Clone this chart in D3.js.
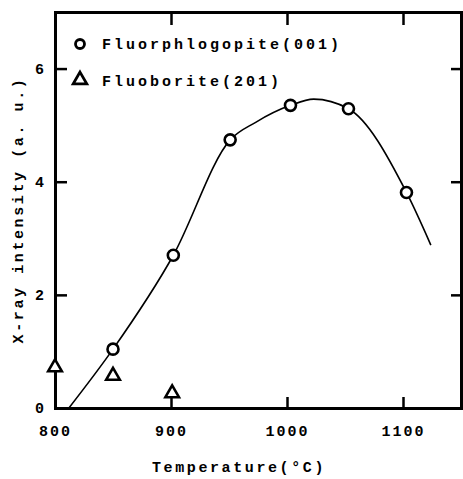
<!DOCTYPE html>
<html>
<head>
<meta charset="utf-8">
<script src="https://cdn.jsdelivr.net/npm/d3@7"></script>
<style>
  body { margin: 0; background: #fff; }
  text { font-family: "Liberation Mono", "DejaVu Sans Mono", monospace; fill: #000; }
</style>
</head>
<body>
<div id="chart"></div>
<script>
var svgWidth = 463;
var svgHeight = 479;

var margin = { top: 12, right: 2, bottom: 71, left: 55 };
var chartWidth = svgWidth - margin.left - margin.right;
var chartHeight = svgHeight - margin.top - margin.bottom;

// data
var phlogTemp = [850, 902, 951, 1003, 1053, 1103];
var phlogInt = [1.04, 2.70, 4.74, 5.35, 5.29, 3.81];

var borTemp = [800, 850, 901];
var borInt = [0.72, 0.57, 0.26];

// hand-drawn fitting curve through the phlogopite points
var curveTemp = [812, 850, 902, 951, 973, 1003, 1023, 1053, 1103, 1124];
var curveInt = [0.0, 1.04, 2.70, 4.74, 5.05, 5.35, 5.46, 5.29, 3.81, 2.88];

var xTicks = [800, 900, 1000, 1100];
var yTicks = [0, 2, 4, 6];

var svg = d3.select("#chart")
  .append("svg")
  .attr("width", svgWidth)
  .attr("height", svgHeight);

var chartGroup = svg.append("g")
  .attr("transform", `translate(${margin.left}, ${margin.top})`);

var x = d3.scaleLinear().domain([800, 1150]).range([0, chartWidth]);
var y = d3.scaleLinear().domain([0, 7]).range([chartHeight, 0]);

// axes, ticks pointing inward
var bottomAxis = d3.axisBottom(x).tickValues(xTicks).tickSize(-11).tickPadding(17).tickFormat(d3.format("d"));
var topAxis = d3.axisTop(x).tickValues(xTicks.slice(1)).tickSize(-13).tickFormat("");
var leftAxis = d3.axisLeft(y).tickValues(yTicks).tickSize(-12).tickPadding(9).tickFormat(d3.format("d"));
var rightAxis = d3.axisRight(y).tickValues(yTicks.slice(1)).tickSize(-10).tickFormat("");

function styleAxis(g) {
  g.select(".domain").attr("stroke", "#000").attr("stroke-width", 3);
  g.selectAll(".tick line").attr("stroke", "#000").attr("stroke-width", 2.5);
  g.selectAll(".tick text")
    .attr("font-size", 15)
    .attr("font-weight", "bold")
    .attr("letter-spacing", 2)
    .attr("fill", "#000");
}

chartGroup.append("g").attr("transform", `translate(0, ${chartHeight})`).call(bottomAxis).call(styleAxis);
chartGroup.append("g").call(topAxis).call(styleAxis);
chartGroup.append("g").call(leftAxis).call(styleAxis);
chartGroup.append("g").attr("transform", `translate(${chartWidth}, 0)`).call(rightAxis).call(styleAxis);

// curve
var line = d3.line()
  .x((d, i) => x(curveTemp[i]))
  .y(d => y(d))
  .curve(d3.curveMonotoneX);

chartGroup.append("path")
  .datum(curveInt)
  .attr("d", line)
  .attr("fill", "none")
  .attr("stroke", "#000")
  .attr("stroke-width", 1.6);

// triangles
var tri = d3.symbol().type(d3.symbolTriangle).size(80);

chartGroup.selectAll(".bor")
  .data(borInt)
  .enter()
  .append("path")
  .attr("class", "bor")
  .attr("d", tri)
  .attr("transform", (d, i) => `translate(${x(borTemp[i])}, ${y(d)})`)
  .attr("fill", "#fff")
  .attr("stroke", "#000")
  .attr("stroke-width", 2.6);

// circles
chartGroup.selectAll(".phl")
  .data(phlogInt)
  .enter()
  .append("circle")
  .attr("class", "phl")
  .attr("cx", (d, i) => x(phlogTemp[i]))
  .attr("cy", d => y(d))
  .attr("r", 5.5)
  .attr("fill", "#fff")
  .attr("stroke", "#000")
  .attr("stroke-width", 2.6);

// legend
var legend = chartGroup.append("g").attr("transform", "translate(25, 32)");
legend.append("circle")
  .attr("cx", 0).attr("cy", 0).attr("r", 4.5)
  .attr("fill", "#fff").attr("stroke", "#000").attr("stroke-width", 2.8);
legend.append("text")
  .attr("x", 22).attr("y", 5)
  .attr("font-size", 15).attr("font-weight", "bold").attr("letter-spacing", 3)
  .text("Fluorphlogopite(001)");
legend.append("path")
  .attr("d", tri)
  .attr("transform", "translate(0, 36)")
  .attr("fill", "#fff").attr("stroke", "#000").attr("stroke-width", 2.8);
legend.append("text")
  .attr("x", 22).attr("y", 42)
  .attr("font-size", 15).attr("font-weight", "bold").attr("letter-spacing", 3)
  .text("Fluoborite(201)");

// axis titles
svg.append("text")
  .attr("x", 239).attr("y", 472)
  .attr("text-anchor", "middle")
  .attr("font-size", 15).attr("font-weight", "bold").attr("letter-spacing", 2.6)
  .text("Temperature(°C)");

svg.append("text")
  .attr("transform", "translate(23, 210) rotate(-90)")
  .attr("text-anchor", "middle")
  .attr("font-size", 15).attr("font-weight", "bold").attr("letter-spacing", 2.6)
  .text("X-ray intensity (a. u.)");
</script>
</body>
</html>
